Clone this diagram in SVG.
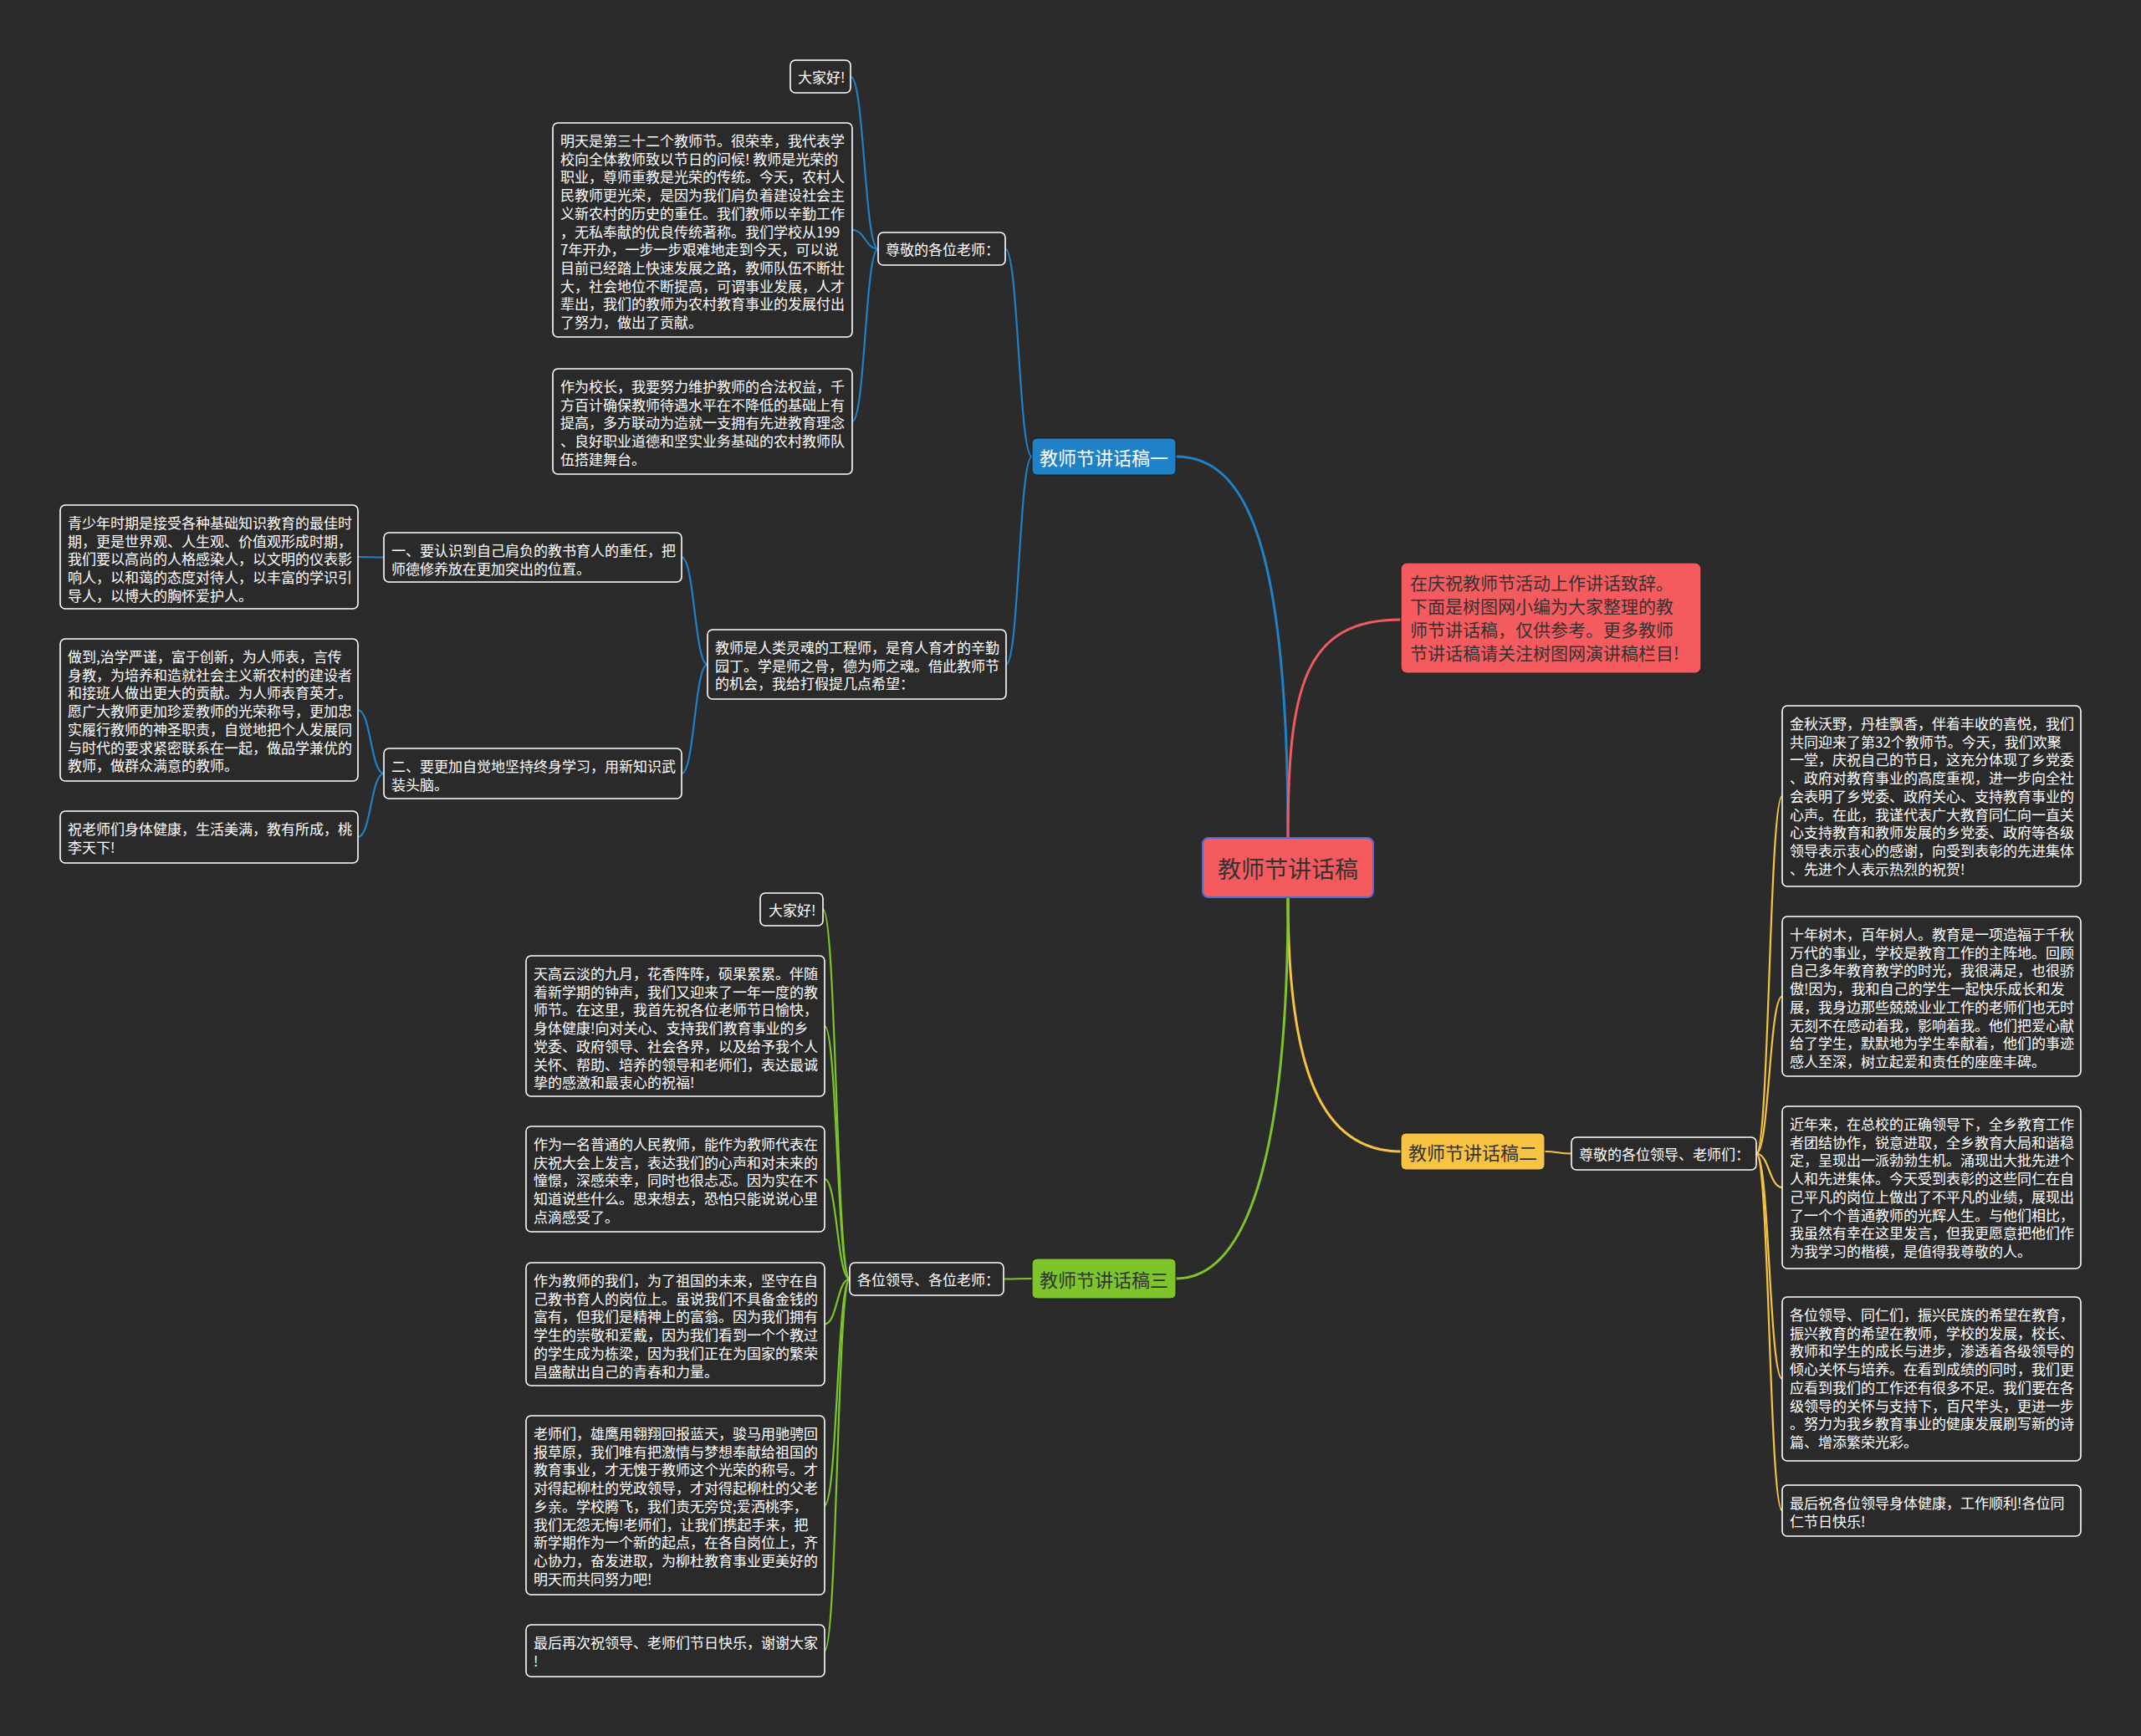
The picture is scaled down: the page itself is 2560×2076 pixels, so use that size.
<svg xmlns="http://www.w3.org/2000/svg" width="2560" height="2076" viewBox="0 0 2560 2076">
<style>
.bg{fill:#2b2b2b}
.n{fill:#2a2a2a;stroke:#ffffff;stroke-width:1.6}
.t{font-family:"Noto Sans CJK SC","Noto Sans",sans-serif;font-size:17px;fill:#ffffff;dominant-baseline:central}
.bt{font-family:"Noto Sans CJK SC","Noto Sans",sans-serif;font-size:22px;dominant-baseline:central;text-anchor:middle}
.c{fill:none;stroke-width:2.2;stroke-linecap:round}
.cb{stroke:#1f82c9}.cr{stroke:#f25b5e}.cy{stroke:#f6c343}.cg{stroke:#7dc52a}
.main{stroke-width:3}
</style>
<rect class="bg" x="0" y="0" width="2560" height="2076"/>

<g id="connectors">
  <path class="c cb main" d="M1540,1002 C1540,650 1490,546 1406,546"/>
  <path class="c cr main" d="M1540,1002 C1540,820 1560,741 1675,741"/>
  <path class="c cy main" d="M1540,1073 C1540,1280 1580,1377 1675,1377"/>
  <path class="c cg main" d="M1540,1073 C1540,1350 1500,1529 1406,1529"/>

  <path class="c cb" d="M1234,546 C1218,546 1218,297.5 1202,297.5"/>
  <path class="c cb" d="M1234,546 C1218.5,546 1218.5,794.5 1203,794.5"/>
  <path class="c cb" d="M1050,297.5 C1033.5,297.5 1033.5,91.5 1017,91.5"/>
  <path class="c cb" d="M1050,297.5 C1034.5,297.5 1034.5,275 1019,275"/>
  <path class="c cb" d="M1050,297.5 C1034.5,297.5 1034.5,504 1019,504"/>
  <path class="c cb" d="M846,794.5 C830.5,794.5 830.5,666.5 815,666.5"/>
  <path class="c cb" d="M846,794.5 C830.5,794.5 830.5,925 815,925"/>
  <path class="c cb" d="M459,666.5 C443.5,666.5 443.5,666 428,666"/>
  <path class="c cb" d="M459,925 C443.5,925 443.5,849 428,849"/>
  <path class="c cb" d="M459,925 C443.5,925 443.5,1001 428,1001"/>

  <path class="c cg" d="M1234,1529 C1217,1529 1217,1529.5 1200,1529.5"/>
  <path class="c cg" d="M1016,1529.5 C1000,1529.5 1000,1087.5 984,1087.5"/>
  <path class="c cg" d="M1016,1529.5 C1001,1529.5 1001,1227 986,1227"/>
  <path class="c cg" d="M1016,1529.5 C1001,1529.5 1001,1410 986,1410"/>
  <path class="c cg" d="M1016,1529.5 C1001,1529.5 1001,1583.5 986,1583.5"/>
  <path class="c cg" d="M1016,1529.5 C1001,1529.5 1001,1800 986,1800"/>
  <path class="c cg" d="M1016,1529.5 C1001,1529.5 1001,1974 986,1974"/>

  <path class="c cy" d="M1847,1377 C1863,1377 1863,1379.5 1879,1379.5"/>
  <path class="c cy" d="M2100,1379.5 C2115.5,1379.5 2115.5,952 2131,952"/>
  <path class="c cy" d="M2100,1379.5 C2115.5,1379.5 2115.5,1191.5 2131,1191.5"/>
  <path class="c cy" d="M2100,1379.5 C2115.5,1379.5 2115.5,1420 2131,1420"/>
  <path class="c cy" d="M2100,1379.5 C2115.5,1379.5 2115.5,1649 2131,1649"/>
  <path class="c cy" d="M2100,1379.5 C2115.5,1379.5 2115.5,1806.5 2131,1806.5"/>
</g>

<g id="root">
  <rect x="1438" y="1002" width="204" height="71" rx="7" fill="#f55a5e" stroke="#5a6bd0" stroke-width="2"/>
  <text x="1540" y="1037.5" style="font-family:'Noto Sans CJK SC','Noto Sans',sans-serif;font-size:28px;fill:#333333;dominant-baseline:central;text-anchor:middle">教师节讲话稿</text>
</g>

<g id="note">
  <rect x="1675" y="673" width="359" height="132" rx="7" fill="#f55a5e" stroke="#1e1e1e" stroke-width="1.2"/>
  <text style="font-family:'Noto Sans CJK SC','Noto Sans',sans-serif;font-size:21px;fill:#333333;dominant-baseline:central">
    <tspan x="1686" y="696">在庆祝教师节活动上作讲话致辞。</tspan>
    <tspan x="1686" y="724">下面是树图网小编为大家整理的教</tspan>
    <tspan x="1686" y="752">师节讲话稿，仅供参考。更多教师</tspan>
    <tspan x="1686" y="780">节讲话稿请关注树图网演讲稿栏目!</tspan>
  </text>
</g>

<g id="branch1">
  <rect x="1234" y="524" width="172" height="44" rx="6" fill="#1f82c9" stroke="#1a1a1a" stroke-width="1"/>
  <text class="bt" x="1320" y="546" fill="#ffffff">教师节讲话稿一</text>
</g>
<g id="branch2">
  <rect x="1675" y="1355" width="172" height="44" rx="6" fill="#f6c343" stroke="#1a1a1a" stroke-width="1"/>
  <text class="bt" x="1761" y="1377" fill="#333333">教师节讲话稿二</text>
</g>
<g id="branch3">
  <rect x="1234" y="1505" width="172" height="48" rx="6" fill="#7dc52a" stroke="#1a1a1a" stroke-width="1"/>
  <text class="bt" x="1320" y="1529" fill="#333333">教师节讲话稿三</text>
</g>

<!-- branch 1 children -->
<g id="b1-zunjing">
  <rect class="n" x="1050" y="278" width="152" height="39" rx="6"/>
  <text class="t" x="1059" y="297.5">尊敬的各位老师：</text>
</g>
<g id="b1-hello">
  <rect class="n" x="945" y="72" width="72" height="39" rx="6"/>
  <text class="t" x="954" y="91.5">大家好!</text>
</g>
<g id="b1-mingtian">
  <rect class="n" x="661" y="147" width="358" height="256" rx="6"/>
  <text class="t">
    <tspan x="670" y="167">明天是第三十二个教师节。很荣幸，我代表学</tspan>
    <tspan x="670" y="188.7">校向全体教师致以节日的问候! 教师是光荣的</tspan>
    <tspan x="670" y="210.4">职业，尊师重教是光荣的传统。今天，农村人</tspan>
    <tspan x="670" y="232.1">民教师更光荣，是因为我们肩负着建设社会主</tspan>
    <tspan x="670" y="253.8">义新农村的历史的重任。我们教师以辛勤工作</tspan>
    <tspan x="670" y="275.5">，无私奉献的优良传统著称。我们学校从199</tspan>
    <tspan x="670" y="297.2">7年开办，一步一步艰难地走到今天，可以说</tspan>
    <tspan x="670" y="318.9">目前已经踏上快速发展之路，教师队伍不断壮</tspan>
    <tspan x="670" y="340.6">大，社会地位不断提高，可谓事业发展，人才</tspan>
    <tspan x="670" y="362.3">辈出，我们的教师为农村教育事业的发展付出</tspan>
    <tspan x="670" y="384">了努力，做出了贡献。</tspan>
  </text>
</g>
<g id="b1-xiaozhang">
  <rect class="n" x="661" y="441" width="358" height="126" rx="6"/>
  <text class="t">
    <tspan x="670" y="461">作为校长，我要努力维护教师的合法权益，千</tspan>
    <tspan x="670" y="482.7">方百计确保教师待遇水平在不降低的基础上有</tspan>
    <tspan x="670" y="504.4">提高，多方联动为造就一支拥有先进教育理念</tspan>
    <tspan x="670" y="526.1">、良好职业道德和坚实业务基础的农村教师队</tspan>
    <tspan x="670" y="547.8">伍搭建舞台。</tspan>
  </text>
</g>
<g id="b1-jiaoshishi">
  <rect class="n" x="846" y="753" width="357" height="83" rx="6"/>
  <text class="t">
    <tspan x="855" y="773">教师是人类灵魂的工程师，是育人育才的辛勤</tspan>
    <tspan x="855" y="794.7">园丁。学是师之骨，德为师之魂。借此教师节</tspan>
    <tspan x="855" y="816.4">的机会，我给打假提几点希望：</tspan>
  </text>
</g>
<g id="b1-yi">
  <rect class="n" x="459" y="637" width="356" height="59" rx="6"/>
  <text class="t">
    <tspan x="468" y="657">一、要认识到自己肩负的教书育人的重任，把</tspan>
    <tspan x="468" y="678.7">师德修养放在更加突出的位置。</tspan>
  </text>
</g>
<g id="b1-er">
  <rect class="n" x="459" y="895" width="356" height="60" rx="6"/>
  <text class="t">
    <tspan x="468" y="915">二、要更加自觉地坚持终身学习，用新知识武</tspan>
    <tspan x="468" y="936.7">装头脑。</tspan>
  </text>
</g>
<g id="b1-qingshaonian">
  <rect class="n" x="72" y="604" width="356" height="124" rx="6"/>
  <text class="t">
    <tspan x="81" y="624">青少年时期是接受各种基础知识教育的最佳时</tspan>
    <tspan x="81" y="645.7">期，更是世界观、人生观、价值观形成时期，</tspan>
    <tspan x="81" y="667.4">我们要以高尚的人格感染人，以文明的仪表影</tspan>
    <tspan x="81" y="689.1">响人，以和蔼的态度对待人，以丰富的学识引</tspan>
    <tspan x="81" y="710.8">导人，以博大的胸怀爱护人。</tspan>
  </text>
</g>
<g id="b1-zuodao">
  <rect class="n" x="72" y="764" width="356" height="170" rx="6"/>
  <text class="t">
    <tspan x="81" y="784">做到,治学严谨，富于创新，为人师表，言传</tspan>
    <tspan x="81" y="805.7">身教，为培养和造就社会主义新农村的建设者</tspan>
    <tspan x="81" y="827.4">和接班人做出更大的贡献。为人师表育英才。</tspan>
    <tspan x="81" y="849.1">愿广大教师更加珍爱教师的光荣称号，更加忠</tspan>
    <tspan x="81" y="870.8">实履行教师的神圣职责，自觉地把个人发展同</tspan>
    <tspan x="81" y="892.5">与时代的要求紧密联系在一起，做品学兼优的</tspan>
    <tspan x="81" y="914.2">教师，做群众满意的教师。</tspan>
  </text>
</g>
<g id="b1-zhu">
  <rect class="n" x="72" y="970" width="356" height="62" rx="6"/>
  <text class="t">
    <tspan x="81" y="990">祝老师们身体健康，生活美满，教有所成，桃</tspan>
    <tspan x="81" y="1011.7">李天下!</tspan>
  </text>
</g>

<!-- branch 3 children -->
<g id="b3-gewei">
  <rect class="n" x="1016" y="1510" width="184" height="39" rx="6"/>
  <text class="t" x="1025" y="1529.5">各位领导、各位老师：</text>
</g>
<g id="b3-hello">
  <rect class="n" x="909" y="1068" width="75" height="39" rx="6"/>
  <text class="t" x="919" y="1087.5">大家好!</text>
</g>
<g id="b3-tiangao">
  <rect class="n" x="629" y="1143" width="357" height="168" rx="6"/>
  <text class="t">
    <tspan x="638" y="1163">天高云淡的九月，花香阵阵，硕果累累。伴随</tspan>
    <tspan x="638" y="1184.7">着新学期的钟声，我们又迎来了一年一度的教</tspan>
    <tspan x="638" y="1206.4">师节。在这里，我首先祝各位老师节日愉快，</tspan>
    <tspan x="638" y="1228.1">身体健康!向对关心、支持我们教育事业的乡</tspan>
    <tspan x="638" y="1249.8">党委、政府领导、社会各界，以及给予我个人</tspan>
    <tspan x="638" y="1271.5">关怀、帮助、培养的领导和老师们，表达最诚</tspan>
    <tspan x="638" y="1293.2">挚的感激和最衷心的祝福!</tspan>
  </text>
</g>
<g id="b3-yiming">
  <rect class="n" x="629" y="1347" width="357" height="126" rx="6"/>
  <text class="t">
    <tspan x="638" y="1367">作为一名普通的人民教师，能作为教师代表在</tspan>
    <tspan x="638" y="1388.7">庆祝大会上发言，表达我们的心声和对未来的</tspan>
    <tspan x="638" y="1410.4">憧憬，深感荣幸，同时也很忐忑。因为实在不</tspan>
    <tspan x="638" y="1432.1">知道说些什么。思来想去，恐怕只能说说心里</tspan>
    <tspan x="638" y="1453.8">点滴感受了。</tspan>
  </text>
</g>
<g id="b3-women">
  <rect class="n" x="629" y="1510" width="357" height="147" rx="6"/>
  <text class="t">
    <tspan x="638" y="1530">作为教师的我们，为了祖国的未来，坚守在自</tspan>
    <tspan x="638" y="1551.7">己教书育人的岗位上。虽说我们不具备金钱的</tspan>
    <tspan x="638" y="1573.4">富有，但我们是精神上的富翁。因为我们拥有</tspan>
    <tspan x="638" y="1595.1">学生的崇敬和爱戴，因为我们看到一个个教过</tspan>
    <tspan x="638" y="1616.8">的学生成为栋梁，因为我们正在为国家的繁荣</tspan>
    <tspan x="638" y="1638.5">昌盛献出自己的青春和力量。</tspan>
  </text>
</g>
<g id="b3-laoshi">
  <rect class="n" x="629" y="1693" width="357" height="214" rx="6"/>
  <text class="t">
    <tspan x="638" y="1713">老师们，雄鹰用翱翔回报蓝天，骏马用驰骋回</tspan>
    <tspan x="638" y="1734.7">报草原，我们唯有把激情与梦想奉献给祖国的</tspan>
    <tspan x="638" y="1756.4">教育事业，才无愧于教师这个光荣的称号。才</tspan>
    <tspan x="638" y="1778.1">对得起柳杜的党政领导，才对得起柳杜的父老</tspan>
    <tspan x="638" y="1799.8">乡亲。学校腾飞，我们责无旁贷;爱洒桃李，</tspan>
    <tspan x="638" y="1821.5">我们无怨无悔!老师们，让我们携起手来，把</tspan>
    <tspan x="638" y="1843.2">新学期作为一个新的起点，在各自岗位上，齐</tspan>
    <tspan x="638" y="1864.9">心协力，奋发进取，为柳杜教育事业更美好的</tspan>
    <tspan x="638" y="1886.6">明天而共同努力吧!</tspan>
  </text>
</g>
<g id="b3-zuihou">
  <rect class="n" x="629" y="1943" width="357" height="62" rx="6"/>
  <text class="t">
    <tspan x="638" y="1963">最后再次祝领导、老师们节日快乐，谢谢大家</tspan>
    <tspan x="638" y="1984.7">!</tspan>
  </text>
</g>

<!-- branch 2 children -->
<g id="b2-zunjing">
  <rect class="n" x="1879" y="1360" width="221" height="39" rx="6"/>
  <text class="t" x="1888" y="1379.5">尊敬的各位领导、老师们：</text>
</g>
<g id="b2-jinqiu">
  <rect class="n" x="2131" y="844" width="357" height="216" rx="6"/>
  <text class="t">
    <tspan x="2140" y="864">金秋沃野，丹桂飘香，伴着丰收的喜悦，我们</tspan>
    <tspan x="2140" y="885.7">共同迎来了第32个教师节。今天，我们欢聚</tspan>
    <tspan x="2140" y="907.4">一堂，庆祝自己的节日，这充分体现了乡党委</tspan>
    <tspan x="2140" y="929.1">、政府对教育事业的高度重视，进一步向全社</tspan>
    <tspan x="2140" y="950.8">会表明了乡党委、政府关心、支持教育事业的</tspan>
    <tspan x="2140" y="972.5">心声。在此，我谨代表广大教育同仁向一直关</tspan>
    <tspan x="2140" y="994.2">心支持教育和教师发展的乡党委、政府等各级</tspan>
    <tspan x="2140" y="1015.9">领导表示衷心的感谢，向受到表彰的先进集体</tspan>
    <tspan x="2140" y="1037.6">、先进个人表示热烈的祝贺!</tspan>
  </text>
</g>
<g id="b2-shinian">
  <rect class="n" x="2131" y="1096" width="357" height="191" rx="6"/>
  <text class="t">
    <tspan x="2140" y="1116">十年树木，百年树人。教育是一项造福于千秋</tspan>
    <tspan x="2140" y="1137.7">万代的事业，学校是教育工作的主阵地。回顾</tspan>
    <tspan x="2140" y="1159.4">自己多年教育教学的时光，我很满足，也很骄</tspan>
    <tspan x="2140" y="1181.1">傲!因为，我和自己的学生一起快乐成长和发</tspan>
    <tspan x="2140" y="1202.8">展，我身边那些兢兢业业工作的老师们也无时</tspan>
    <tspan x="2140" y="1224.5">无刻不在感动着我，影响着我。他们把爱心献</tspan>
    <tspan x="2140" y="1246.2">给了学生，默默地为学生奉献着，他们的事迹</tspan>
    <tspan x="2140" y="1267.9">感人至深，树立起爱和责任的座座丰碑。</tspan>
  </text>
</g>
<g id="b2-jinnian">
  <rect class="n" x="2131" y="1323" width="357" height="194" rx="6"/>
  <text class="t">
    <tspan x="2140" y="1343">近年来，在总校的正确领导下，全乡教育工作</tspan>
    <tspan x="2140" y="1364.7">者团结协作，锐意进取，全乡教育大局和谐稳</tspan>
    <tspan x="2140" y="1386.4">定，呈现出一派勃勃生机。涌现出大批先进个</tspan>
    <tspan x="2140" y="1408.1">人和先进集体。今天受到表彰的这些同仁在自</tspan>
    <tspan x="2140" y="1429.8">己平凡的岗位上做出了不平凡的业绩，展现出</tspan>
    <tspan x="2140" y="1451.5">了一个个普通教师的光辉人生。与他们相比，</tspan>
    <tspan x="2140" y="1473.2">我虽然有幸在这里发言，但我更愿意把他们作</tspan>
    <tspan x="2140" y="1494.9">为我学习的楷模，是值得我尊敬的人。</tspan>
  </text>
</g>
<g id="b2-gewei">
  <rect class="n" x="2131" y="1551" width="357" height="196" rx="6"/>
  <text class="t">
    <tspan x="2140" y="1571">各位领导、同仁们，振兴民族的希望在教育，</tspan>
    <tspan x="2140" y="1592.7">振兴教育的希望在教师，学校的发展，校长、</tspan>
    <tspan x="2140" y="1614.4">教师和学生的成长与进步，渗透着各级领导的</tspan>
    <tspan x="2140" y="1636.1">倾心关怀与培养。在看到成绩的同时，我们更</tspan>
    <tspan x="2140" y="1657.8">应看到我们的工作还有很多不足。我们要在各</tspan>
    <tspan x="2140" y="1679.5">级领导的关怀与支持下，百尺竿头，更进一步</tspan>
    <tspan x="2140" y="1701.2">。努力为我乡教育事业的健康发展刷写新的诗</tspan>
    <tspan x="2140" y="1722.9">篇、增添繁荣光彩。</tspan>
  </text>
</g>
<g id="b2-zuihou">
  <rect class="n" x="2131" y="1776" width="357" height="61" rx="6"/>
  <text class="t">
    <tspan x="2140" y="1796">最后祝各位领导身体健康，工作顺利!各位同</tspan>
    <tspan x="2140" y="1817.7">仁节日快乐!</tspan>
  </text>
</g>
</svg>
